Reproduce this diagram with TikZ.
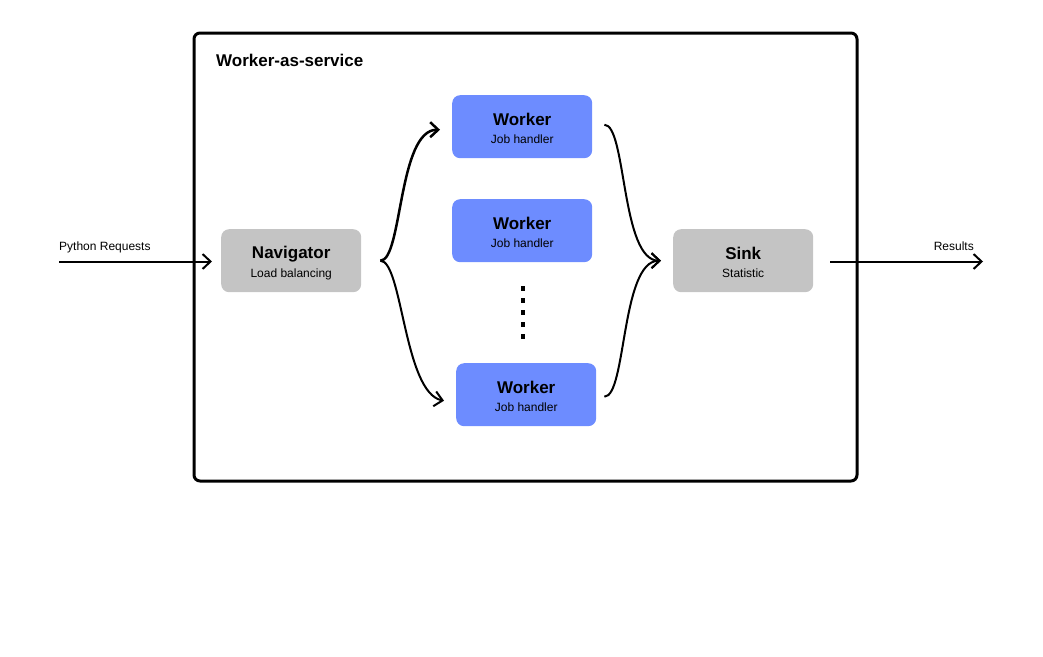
\documentclass[tikz,border=0pt]{standalone}
\usepackage{fontspec}
\setmainfont{Liberation Sans}
\usetikzlibrary{arrows.meta}
\definecolor{boxgray}{HTML}{C4C4C4}
\definecolor{workerblue}{HTML}{6D8CFF}
\newcommand\headfont{\fontsize{17}{19}\bfseries}
\newcommand\subfont{\fontsize{12}{14}\selectfont}
\newcommand\boxtext[2]{\headfont\rule{0pt}{18pt}#1\\[6pt]\subfont\rule[-3pt]{0pt}{3pt}#2}
\begin{document}
\begin{tikzpicture}[x=1pt,y=-1pt,
  box/.style={rounded corners=8pt, minimum width=140pt, minimum height=63pt, inner sep=0pt, align=center, anchor=north west},
  graybox/.style={box, fill=boxgray},
  workerbox/.style={box, fill=workerblue},
  flow/.style={line width=2pt, -{Straight Barb[length=8pt,width=15pt]}},
  label/.style={font=\subfont, inner sep=0pt}]

\useasboundingbox (0,0) rectangle (1043,656);

% service frame
\draw[line width=3pt, rounded corners=6pt] (194,33) rectangle (857,481);
\node[anchor=base west, font=\headfont, inner sep=0pt] (title) at (216,66) {Worker-as-service};

\node[graybox] (nav) at (221,229) {\boxtext{Navigator}{Load balancing}};
\node[workerbox] (w1) at (452,95) {\boxtext{Worker}{Job handler}};
\node[workerbox] (w2) at (452,199) {\boxtext{Worker}{Job handler}};
\node[workerbox] (w3) at (456,363) {\boxtext{Worker}{Job handler}};
\node[graybox] (sink) at (673,229) {\boxtext{Sink}{Statistic}};

\draw[line width=4pt, dash pattern=on 5pt off 7pt] ([xshift=1pt,yshift=-24pt]w2.south) -- ([xshift=1pt,yshift=-79pt]w2.south);

% in and out
\coordinate (req) at (59,261.5);
\coordinate (res) at (983,261.5);
\draw[flow, shorten >=9pt] (req) -- (req -| nav.west);
\node[label, anchor=base west] at ([yshift=11pt]req) {Python Requests};
\draw[flow] (res -| sink.east) ++(17,0) -- (res);
\node[label, anchor=base east] at ([shift={(-9,-11)}]res) {Results};

% split to workers
\draw[flow, line width=2.5pt] ([xshift=19pt]nav.east) .. controls +(22,0) and +(-42,0) .. ([shift={(-12,3)}]w1.west);
\draw[flow] ([xshift=19pt]nav.east) .. controls +(22,0) and +(-40,-8) .. ([shift={(-12,6)}]w3.west);

% merge into sink
\draw[flow] ([shift={(12,-2)}]w1.east) .. controls +(22,0) and +(-40,0) .. ([xshift=-12pt]sink.west);
\draw[flow] ([shift={(8,2)}]w3.east) .. controls +(22,0) and +(-40,0) .. ([xshift=-12pt]sink.west);

\end{tikzpicture}
\end{document}
